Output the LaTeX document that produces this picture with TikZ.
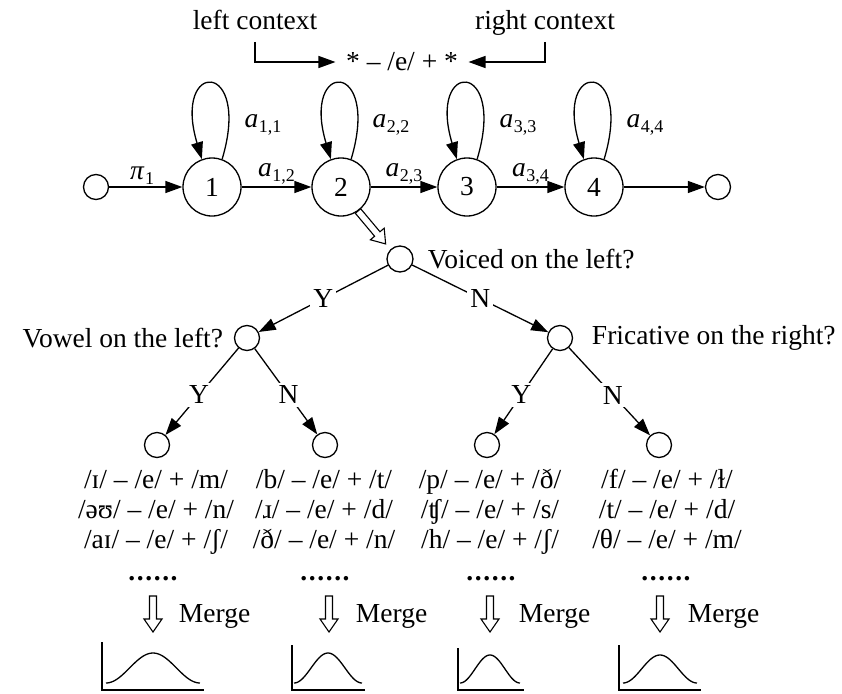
\documentclass[tikz,border=0pt]{standalone}
\usepackage{fontspec}
\setmainfont{Liberation Serif}
\usetikzlibrary{arrows.meta}
\newcommand\sub[2]{\textit{#1}\kern0.5pt\raisebox{-5pt}{\fontsize{18}{18}\selectfont #2}}
\newcommand\dotrow{\textbf{.\kern1.6pt.\kern1.6pt.\kern1.6pt.\kern1.6pt.\kern1.6pt.}}
\begin{document}
\begin{tikzpicture}[x=1pt,y=-1pt, line width=1.3pt,
  every node/.style={font=\fontsize{27.5}{33}\selectfont},
  arr/.style={-{Triangle[length=17pt,width=12pt]}},
  state/.style={circle,draw,minimum size=58pt,inner sep=0pt},
  dot/.style={circle,draw,minimum size=25pt,inner sep=0pt},
  yn/.style={fill=white,inner sep=3pt},
  pics/harrow/.style={code={\draw[line width=1.1pt,fill=white] (-3.5,0) -- (-3.5,#1-13) -- (-9,#1-13) -- (0,#1) -- (9,#1-13) -- (3.5,#1-13) -- (3.5,0) -- cycle;}},
  pics/harrow/.default=36
]
\useasboundingbox (0,0) rectangle (842,693);

% context header
\node[anchor=base] (tL) at (255,30) {left context};
\node[anchor=base] (tR) at (545,30) {right context};
\node[inner xsep=10pt] (ctx) at (402,62) {* – /e/ + *};
\coordinate (tLf) at (255,42);
\coordinate (tRf) at (545,42);
\draw[arr] (tLf) |- (ctx.west);
\draw[arr] (tRf) |- (ctx.east);

% HMM chain
\node[dot] (e0) at (96,187) {};
\node[state] (s1) at (212,187) {1};
\node[state] (s2) at (341,187) {2};
\node[state] (s3) at (467,187) {3};
\node[state] (s4) at (594,187) {4};
\node[dot] (e5) at (718,187) {};
\draw[arr] (e0) -- node[above,pos=0.45,inner sep=2pt]{\sub{π}{1}} (s1);
\draw[arr] (s1) -- node[above,inner sep=2pt]{\sub{a}{1,2}} (s2);
\draw[arr] (s2) -- node[above,inner sep=2pt]{\sub{a}{2,3}} (s3);
\draw[arr] (s3) -- node[above,inner sep=2pt]{\sub{a}{3,4}} (s4);
\draw[arr] (s4) -- (e5);
\foreach \s in {s1,s2,s3,s4}{
  \draw[arr] (\s.70) .. controls +(30,-100) and +(-30,-100) .. (\s.110);
}
\node (l11) at (263,125) {\sub{a}{1,1}};
\node (l22) at (391,125) {\sub{a}{2,2}};
\node (l33) at (518,125) {\sub{a}{3,3}};
\node (l44) at (645,125) {\sub{a}{4,4}};

% decision tree
\pic[rotate=40] at (358,211) {harrow=43};
\node[dot,minimum size=26pt] (root) at (400,259) {};
\node[anchor=west] (q1) at (424,259) {Voiced on the left?};
\node[dot] (c1) at (247,338) {};
\node[anchor=east] (q2) at (227,338) {Vowel on the left?};
\node[dot] (c2) at (560,338) {};
\node[anchor=west] (q3) at (588,338) {Fricative on the right?};
\draw[arr] (root) -- node[yn]{Y} (c1);
\draw[arr] (root) -- node[yn]{N} (c2);
\node[dot] (f1) at (157,445) {};
\node[dot] (f2) at (325,445) {};
\node[dot] (f3) at (487,445) {};
\node[dot] (f4) at (659,445) {};
\draw[arr] (c1) -- node[yn,pos=0.54]{Y} (f1);
\draw[arr] (c1) -- node[yn,pos=0.54]{N} (f2);
\draw[arr] (c2) -- node[yn,pos=0.54]{Y} (f3);
\draw[arr] (c2) -- node[yn,pos=0.54]{N} (f4);

% phoneme lists
\node[anchor=base] (p11) at (156,488) {/ɪ/ – /e/ + /m/};
\node[anchor=base] (p12) at (156,518) {/əʊ/ – /e/ + /n/};
\node[anchor=base] (p13) at (156,548) {/aɪ/ – /e/ + /ʃ/};
\node[anchor=base] (p21) at (324,488) {/b/ – /e/ + /t/};
\node[anchor=base] (p22) at (324,518) {/ɹ/ – /e/ + /d/};
\node[anchor=base] (p23) at (324,548) {/ð/ – /e/ + /n/};
\node[anchor=base] (p31) at (490,488) {/p/ – /e/ + /ð/};
\node[anchor=base] (p32) at (490,518) {/ʧ/ – /e/ + /s/};
\node[anchor=base] (p33) at (490,548) {/h/ – /e/ + /ʃ/};
\node[anchor=base] (p41) at (667,488) {/f/ – /e/ + /ɫ/};
\node[anchor=base] (p42) at (667,518) {/t/ – /e/ + /d/};
\node[anchor=base] (p43) at (667,548) {/θ/ – /e/ + /m/};
\node[anchor=base] (d1) at (153,580) {\dotrow};
\node[anchor=base] (d2) at (325,580) {\dotrow};
\node[anchor=base] (d3) at (491,580) {\dotrow};
\node[anchor=base] (d4) at (666,580) {\dotrow};

% merge arrows
\pic at (153,596) {harrow};
\pic at (329,596) {harrow};
\pic at (490,596) {harrow};
\pic at (660,596) {harrow};
\node[anchor=base west] (m1) at (175,622) {Merge};
\node[anchor=base west] (m2) at (352,622) {Merge};
\node[anchor=base west] (m3) at (515,622) {Merge};
\node[anchor=base west] (m4) at (684,622) {Merge};

% distributions
\draw (102,642) -- (102,690) -- (204,690);
\draw plot[domain=-1:1,samples=60,smooth] ({153+47*\x},{683-30*(1+cos(180*\x))/2});
\draw (292,645) -- (292,690) -- (365,690);
\draw plot[domain=-1:1,samples=60,smooth] ({328+34*\x},{683-30*(1+cos(180*\x))/2});
\draw (458,648) -- (458,690) -- (524,690);
\draw plot[domain=-1:1,samples=60,smooth] ({490+30*\x},{683-28*(1+cos(180*\x))/2});
\draw (619,645) -- (619,690) -- (701,690);
\draw plot[domain=-1:1,samples=60,smooth] ({660+37*\x},{683-28*(1+cos(180*\x))/2});
\end{tikzpicture}
\end{document}
